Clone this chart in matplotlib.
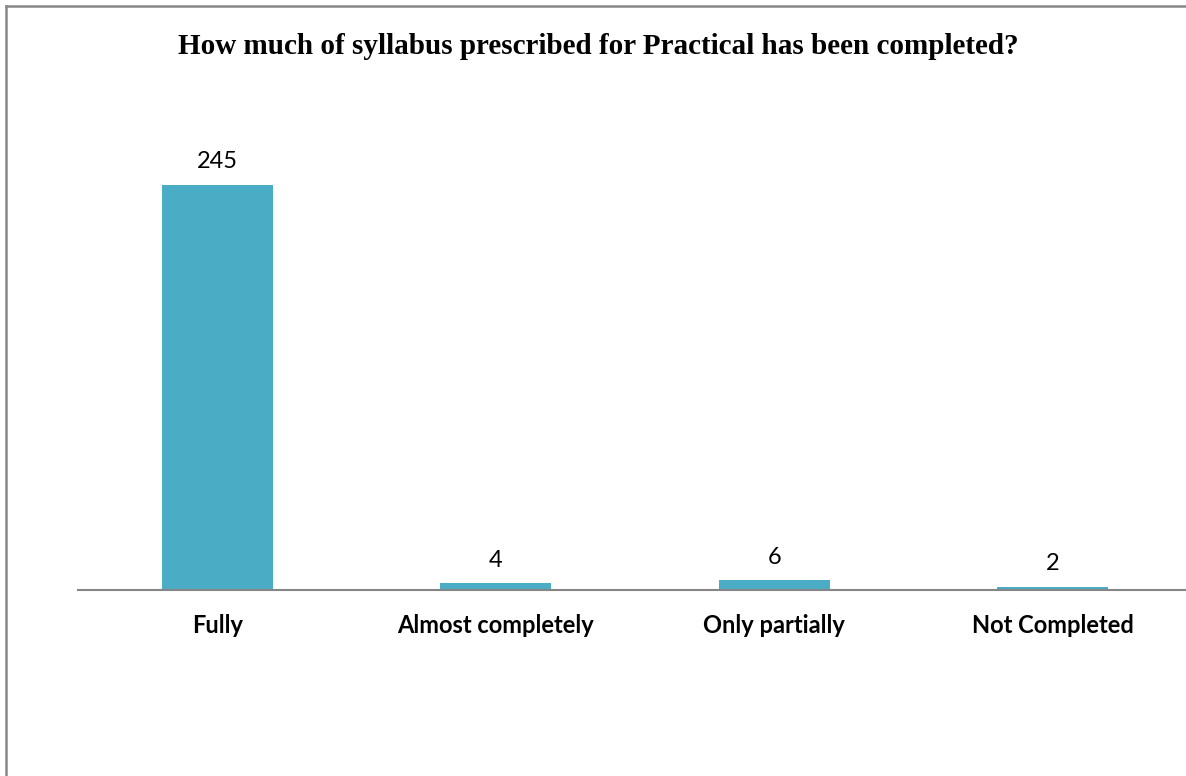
import matplotlib
matplotlib.use('Agg')
import matplotlib.pyplot as plt
from matplotlib.lines import Line2D

# Data
categories = ['Fully', 'Almost completely', 'Only partially', 'Not Completed']
counts = [245, 4, 6, 2]
title = 'How much of syllabus prescribed for Practical has been completed?'

W, H = 1186, 776
fig = plt.figure(figsize=(W / 100, H / 100), dpi=100)

# axes placed so baseline sits at y=590 px
ax = fig.add_axes([78 / W, (H - 590) / H, 1114 / W, 463 / H])
x = range(len(categories))
bars = ax.bar(x, counts, width=0.4, color='#4BACC6', zorder=2)
ax.set_xlim(-0.5, len(categories) - 0.5)
ax.set_ylim(0, 280)

for rect, v in zip(bars, counts):
    ax.annotate(str(v), (rect.get_x() + rect.get_width() / 2, v),
                xytext=(0, 9), textcoords='offset points',
                ha='center', va='bottom', fontsize=17, family='Lato')

ax.set_xticks(list(x))
ax.set_xticklabels(categories, fontsize=17, fontweight='bold', family='Lato')
ax.tick_params(axis='x', length=0, pad=17)
ax.set_yticks([])
for s in ['top', 'right', 'left']:
    ax.spines[s].set_visible(False)
ax.spines['bottom'].set_color('#868686')
ax.spines['bottom'].set_linewidth(1.5)

fig.text(598 / W, 1 - 46 / H, title, ha='center', va='center',
         fontsize=21, fontweight='bold', family='Liberation Serif')

# outer frame (only left and top visible)
fig.add_artist(Line2D([5.5 / W, 5.5 / W], [0, 1 - 6 / H], color='#888888', lw=1.8,
                      transform=fig.transFigure))
fig.add_artist(Line2D([5.5 / W, 1], [1 - 6 / H, 1 - 6 / H], color='#888888', lw=1.8,
                      transform=fig.transFigure))

fig.savefig('out.png', dpi=100)
